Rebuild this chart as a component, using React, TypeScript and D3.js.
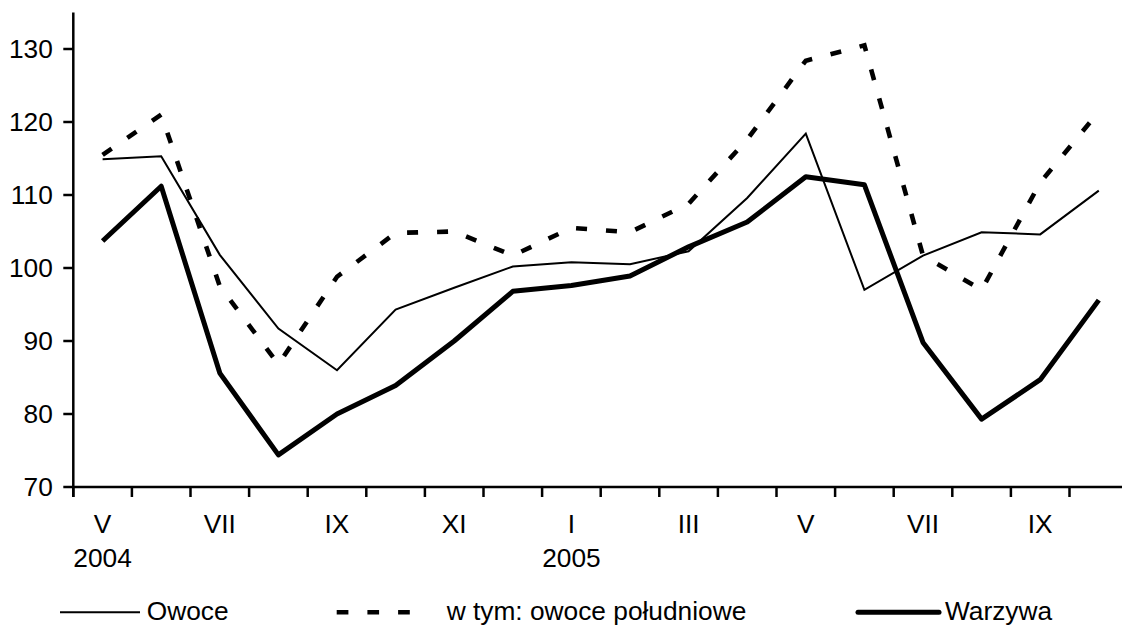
import React from "react";
import * as d3 from "d3";

const months = ["V","VI","VII","VIII","IX","X","XI","XII","I","II","III","IV","V","VI","VII","VIII","IX","X"];
const yearLabels: { index: number; label: string }[] = [
  { index: 0, label: "2004" },
  { index: 8, label: "2005" },
];
const yTicks = [70, 80, 90, 100, 110, 120, 130];

const owoce = [114.9, 115.3, 101.8, 91.7, 86.0, 94.3, 97.3, 100.2, 100.8, 100.5, 102.3, 109.6, 118.4, 97.0, 101.7, 104.9, 104.6, 110.6];
const poludniowe = [115.5, 121.0, 97.5, 86.8, 98.8, 104.8, 105.0, 101.7, 105.5, 104.9, 108.8, 117.6, 128.4, 130.5, 101.7, 97.0, 111.7, 121.4];
const warzywa = [103.7, 111.2, 85.6, 74.4, 80.0, 83.9, 90.0, 96.8, 97.6, 98.9, 102.9, 106.3, 112.5, 111.4, 89.8, 79.3, 84.7, 95.6];

const W = 1122;
const H = 625;
const FONT = "'Liberation Sans', Arial, Helvetica, sans-serif";
const FS = 26.3;

export default function App() {
  const left = 73.3;
  const right = left + 18 * 58.6;
  const x = d3.scaleBand<number>().domain(d3.range(months.length)).range([left, right]).padding(0);
  const y = d3.scaleLinear().domain([70, 135]).range([487, 12.5]);
  const bw = x.bandwidth();
  const cx = (i: number) => (x(i) as number) + bw / 2;

  const line = d3
    .line<number>()
    .x((_, i) => cx(i))
    .y((d) => y(d));

  const axisY = y(70);
  const boundaries = d3.range(months.length + 1).map((i) => left + i * bw);

  return (
    <svg
      width={W}
      height={H}
      style={{ position: "absolute", left: 0, top: 0, background: "#fff" }}
      fontFamily={FONT}
      fontSize={FS}
    >
      <rect x={0} y={0} width={W} height={H} fill="#fff" />
      {/* data lines */}
      <path d={line(owoce) || ""} fill="none" stroke="#000" strokeWidth={2} strokeLinejoin="miter" />
      <path
        d={line(poludniowe) || ""}
        fill="none"
        stroke="#000"
        strokeWidth={4.6}
        strokeDasharray="11 19"
        strokeLinejoin="miter"
      />
      <path d={line(warzywa) || ""} fill="none" stroke="#000" strokeWidth={5} strokeLinejoin="round" />

      {/* y axis */}
      <line x1={left} x2={left} y1={12.5} y2={axisY + 10} stroke="#000" strokeWidth={2.5} />
      {yTicks.map((t) => (
        <g key={t}>
          <line x1={left - 10} x2={left} y1={y(t)} y2={y(t)} stroke="#000" strokeWidth={2.5} />
          <text x={left - 20.5} y={y(t)} dy="0.355em" textAnchor="end" fill="#000">
            {t}
          </text>
        </g>
      ))}

      {/* x axis */}
      <line x1={left} x2={W} y1={axisY} y2={axisY} stroke="#000" strokeWidth={2.5} />
      {boundaries.map((b, i) => (
        <line key={i} x1={b} x2={b} y1={axisY} y2={axisY + 10} stroke="#000" strokeWidth={2.5} />
      ))}
      {months.map((m, i) =>
        i % 2 === 0 ? (
          <text key={i} x={cx(i)} y={533} textAnchor="middle" fill="#000">
            {m}
          </text>
        ) : null
      )}
      {yearLabels.map((yl) => (
        <text key={yl.label} x={cx(yl.index)} y={566.7} textAnchor="middle" fill="#000">
          {yl.label}
        </text>
      ))}

      {/* legend */}
      <line x1={60} x2={140} y1={612.3} y2={612.3} stroke="#000" strokeWidth={2} />
      <text x={146.7} y={620} fill="#000">Owoce</text>
      <line x1={336.7} x2={410} y1={612.3} y2={612.3} stroke="#000" strokeWidth={4.6} strokeDasharray="11.7 19" />
      <text x={446.7} y={620} fill="#000">w tym: owoce południowe</text>
      <line x1={858} x2={939} y1={612.3} y2={612.3} stroke="#000" strokeWidth={5} strokeLinecap="round" />
      <text x={945} y={620} fill="#000">Warzywa</text>
    </svg>
  );
}
